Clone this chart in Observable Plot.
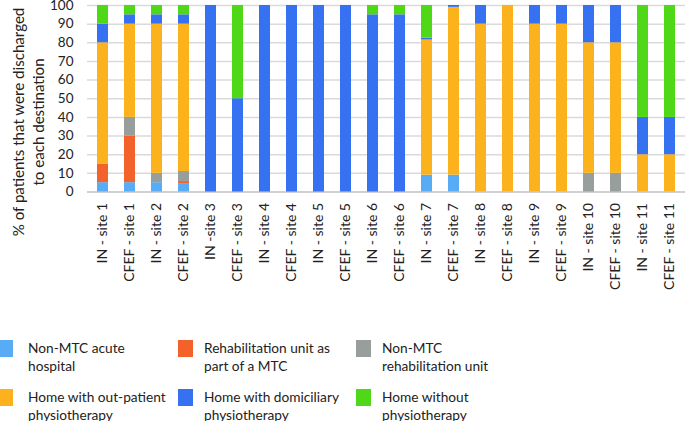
<!DOCTYPE html>
<html>
<head>
<meta charset="utf-8">
<script src="https://cdn.jsdelivr.net/npm/d3@7"></script>
<script src="https://cdn.jsdelivr.net/npm/@observablehq/plot@0.6"></script>
<style>
  body { margin: 0; background: #fff; }
  #wrap { position: relative; width: 685px; height: 421px; font-family: Lato, sans-serif; color: #222; overflow: hidden; }
  .lg { position: absolute; font-size: 13.7px; line-height: 18px; white-space: nowrap; }
  .sw { position: absolute; width: 15px; height: 17px; }
  #ylab { position: absolute; left: 28px; top: 122px; width: 260px; font-size: 15.1px; line-height: 20px;
          text-align: center; white-space: nowrap; transform: translate(-50%, -50%) rotate(-90deg); }
</style>
</head>
<body>
<div id="wrap"></div>
<script>
const sites = ["IN - site 1","CFEF - site 1","IN - site 2","CFEF - site 2","IN -site 3","CFEF - site 3",
  "IN - site 4","CFEF - site 4","IN - site 5","CFEF - site 5","IN - site 6","CFEF - site 6",
  "IN - site 7","CFEF - site 7","IN - site 8","CFEF - site 8","IN - site 9","CFEF - site 9",
  "IN - site 10","CFEF - site 10","IN - site 11","CFEF - site 11"];
const destinations = ["Non-MTC acute hospital","Rehabilitation unit as part of a MTC","Non-MTC rehabilitation unit",
  "Home with out-patient physiotherapy","Home with domiciliary physiotherapy","Home without physiotherapy"];
const legendLines = [["Non-MTC acute","hospital"],["Rehabilitation unit as","part of a MTC"],["Non-MTC","rehabilitation unit"],
  ["Home with out-patient","physiotherapy"],["Home with domiciliary","physiotherapy"],["Home without","physiotherapy"]];
const colors = ["#58acf5","#f4622b","#979e9b","#fbb21c","#3571f1","#4fd818"];

const nonMtcAcute = [5,5,5,4.5,0,0,0,0,0,0,0,0,9,9,0,0,0,0,0,0,0,0];
const rehabMtc    = [10,25,0,1.1,0,0,0,0,0,0,0,0,0,0,0,0,0,0,0,0,0,0];
const nonMtcRehab = [0,10,5,5.4,0,0,0,0,0,0,0,0,0,0,0,0,0,0,10,10,0,0];
const outPatient  = [65,50,80,79,0,0,0,0,0,0,0,0,72.5,90,90,100,90,90,70,70,20,20];
const domiciliary = [10,5,5,5,100,50,100,100,100,100,95,95,1,1,10,0,10,10,20,20,20,20];
const without     = [10,5,5,5,0,50,0,0,0,0,5,5,17.5,0,0,0,0,0,0,0,60,60];
const yTicks = [0,10,20,30,40,50,60,70,80,90,100];
const yLabelLines = ["% of patients that were discharged", "to each destination"];

const series = [nonMtcAcute, rehabMtc, nonMtcRehab, outPatient, domiciliary, without];
const table = series.flatMap((vals, k) => vals.map((v, i) => ({site: sites[i], dest: destinations[k], value: v})));

const chart = Plot.plot({
  width: 685, height: 300,
  marginTop: 5, marginBottom: 108.5, marginLeft: 87, marginRight: 0,
  style: {fontFamily: "Lato, sans-serif", fontSize: "13.5px", color: "#222", background: "#fff", overflow: "visible"},
  x: {domain: sites, paddingInner: 0.6, paddingOuter: 0.3, label: null, tickSize: 0, tickRotate: -90, tickPadding: 11},
  y: {domain: [0, 100], ticks: yTicks, label: null, tickSize: 0, tickPadding: 14},
  color: {domain: destinations, range: colors},
  marks: [
    Plot.ruleY(yTicks.slice(1), {stroke: "#dadada", strokeWidth: 1.5}),
    Plot.ruleY([0], {stroke: "#d0d0d0", strokeWidth: 2}),
    Plot.barY(table, {x: "site", y: "value", fill: "dest", order: destinations}),
    Plot.axisX({tickSize: 0, tickRotate: -90, tickPadding: 11, fontSize: 14, label: null}),
    Plot.axisY({ticks: yTicks, tickSize: 0, tickPadding: 14, label: null})
  ]
});
const wrap = document.getElementById("wrap");
wrap.appendChild(chart);

const yl = document.createElement("div");
yl.id = "ylab";
yl.innerHTML = yLabelLines.join("<br>");
wrap.appendChild(yl);

const swX = [-2, 178, 356];
const txX = [28, 204, 382];
const rowY = [340, 389];
destinations.forEach((d, i) => {
  const c = i % 3, r = Math.floor(i / 3);
  const sw = document.createElement("div");
  sw.className = "sw";
  sw.style.left = swX[c] + "px";
  sw.style.top = rowY[r] + "px";
  sw.style.background = colors[i];
  wrap.appendChild(sw);
  const t = document.createElement("div");
  t.className = "lg";
  t.style.left = txX[c] + "px";
  t.style.top = (rowY[r] - 1) + "px";
  t.innerHTML = legendLines[i].join("<br>");
  wrap.appendChild(t);
});
</script>
</body>
</html>
